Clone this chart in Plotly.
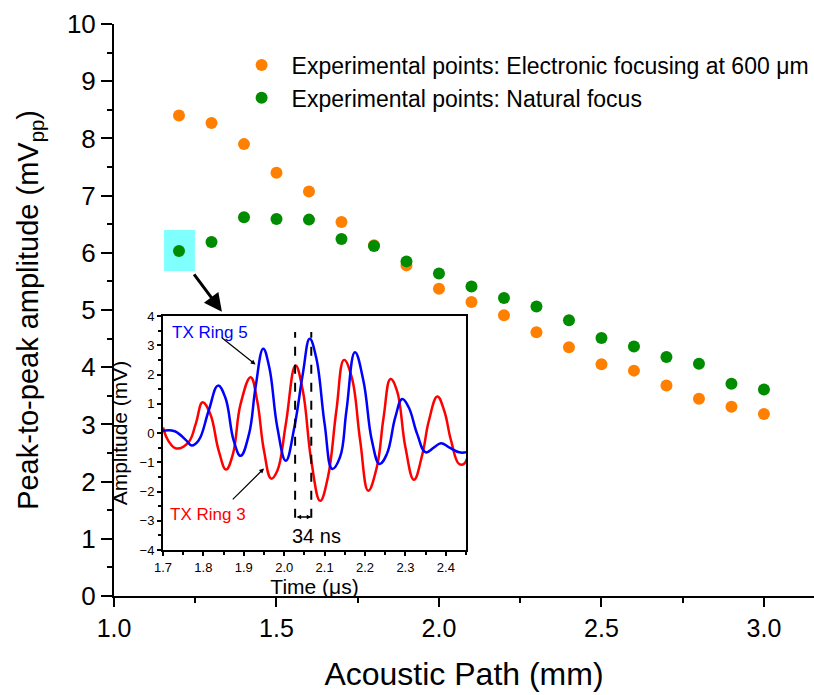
import plotly.graph_objects as go

# ---------------- main data ----------------
path_mm = [1.2, 1.3, 1.4, 1.5, 1.6, 1.7, 1.8, 1.9, 2.0, 2.1, 2.2, 2.3, 2.4, 2.5, 2.6, 2.7, 2.8, 2.9, 3.0]
electronic_focus = [8.40, 8.27, 7.90, 7.40, 7.07, 6.54, 6.13, 5.78, 5.37, 5.14, 4.91, 4.61, 4.35, 4.05, 3.94, 3.68, 3.45, 3.31, 3.18]
natural_focus = [6.03, 6.19, 6.62, 6.59, 6.58, 6.24, 6.12, 5.85, 5.64, 5.41, 5.21, 5.06, 4.82, 4.51, 4.36, 4.18, 4.06, 3.71, 3.61]

# ---------------- inset waveforms ----------------
ring5_t = [1.700, 1.729, 1.758, 1.771, 1.788, 1.813, 1.836, 1.854, 1.875, 1.892, 1.913, 1.929, 1.948, 1.963,
           1.983, 2.004, 2.025, 2.046, 2.063, 2.079, 2.100, 2.119, 2.138, 2.154, 2.175, 2.196, 2.217, 2.236,
           2.254, 2.275, 2.292, 2.308, 2.329, 2.350, 2.371, 2.388, 2.408, 2.433, 2.450]
ring5_a = [0.08, 0.06, -0.26, -0.43, -0.26, 0.76, 1.62, 1.22, -0.26, -0.78, -0.03, 1.56, 2.88, 2.25,
           0.19, -0.95, 0.19, 2.02, 3.22, 2.59, 0.31, -1.23, -0.83, 0.76, 2.76, 1.79, -0.26, -1.06,
           -0.72, 0.54, 1.16, 0.88, -0.03, -0.66, -0.49, -0.35, -0.49, -0.66, -0.66]
ring3_t = [1.700, 1.713, 1.733, 1.763, 1.781, 1.798, 1.817, 1.838, 1.856, 1.873, 1.892, 1.917, 1.933, 1.950,
           1.968, 1.983, 2.004, 2.028, 2.046, 2.067, 2.089, 2.108, 2.129, 2.148, 2.167, 2.188, 2.208, 2.229,
           2.246, 2.263, 2.279, 2.300, 2.321, 2.342, 2.358, 2.379, 2.396, 2.413, 2.433, 2.446, 2.458]
ring3_a = [0.19, -0.26, -0.53, -0.32, 0.31, 1.05, 0.65, -0.61, -1.25, -0.72, 0.99, 1.91, 1.11, -0.61,
           -1.56, -1.29, 0.31, 2.31, 1.45, -0.95, -2.32, -1.52, 0.76, 2.50, 1.91, -0.26, -1.97, -1.18,
           0.54, 1.85, 1.45, -0.49, -1.60, -0.72, 0.42, 1.25, 0.76, -0.26, -1.06, -1.04, -0.49]

main_xticks = [1.0, 1.5, 2.0, 2.5, 3.0]
main_yticks = [0, 1, 2, 3, 4, 5, 6, 7, 8, 9, 10]
inset_xticks = [1.7, 1.8, 1.9, 2.0, 2.1, 2.2, 2.3, 2.4]
inset_yticks = [-4, -3, -2, -1, 0, 1, 2, 3, 4]

FONT = "Liberation Sans, Arial, sans-serif"
ORANGE = "#FF8000"
GREEN = "#008C00"

fig = go.Figure()

fig.add_trace(go.Scatter(x=path_mm, y=electronic_focus, mode="markers",
                         marker=dict(color=ORANGE, size=12),
                         name="Experimental points: Electronic focusing at 600 \u03bcm"))
fig.add_trace(go.Scatter(x=path_mm, y=natural_focus, mode="markers",
                         marker=dict(color=GREEN, size=12),
                         name="Experimental points: Natural focus"))

fig.add_trace(go.Scatter(x=ring3_t, y=ring3_a, mode="lines", xaxis="x2", yaxis="y2",
                         line=dict(color="#FF0000", width=2.5, shape="spline", smoothing=1.2),
                         showlegend=False, name="TX Ring 3"))
fig.add_trace(go.Scatter(x=ring5_t, y=ring5_a, mode="lines", xaxis="x2", yaxis="y2",
                         line=dict(color="#0000FF", width=2.5, shape="spline", smoothing=1.2),
                         showlegend=False, name="TX Ring 5"))

shapes = [
    # cyan highlight box around first natural-focus point
    dict(type="rect", xref="x", yref="y", x0=1.154, x1=1.249, y0=5.68, y1=6.40,
         fillcolor="#80FFFF", line=dict(width=0), layer="below"),
    # dashed delay markers in inset
    dict(type="line", xref="x2", yref="y2", x0=2.027, x1=2.027, y0=-2.9, y1=3.45,
         line=dict(color="black", width=2, dash="dash")),
    dict(type="line", xref="x2", yref="y2", x0=2.067, x1=2.067, y0=-2.9, y1=3.45,
         line=dict(color="black", width=2, dash="dash")),
]

annotations = [
    # main arrow pointing to inset
    dict(x=1.332, y=4.97, ax=1.243, ay=5.65, xref="x", yref="y", axref="x", ayref="y",
         showarrow=True, arrowhead=2, arrowsize=1.2, arrowwidth=3, arrowcolor="black", text=""),
    dict(x=1.717, y=3.45, xref="x2", yref="y2", text="TX Ring 5", showarrow=False,
         xanchor="left", yanchor="middle", font=dict(family=FONT, size=17, color="#0000FF")),
    dict(x=1.713, y=-2.77, xref="x2", yref="y2", text="TX Ring 3", showarrow=False,
         xanchor="left", yanchor="middle", font=dict(family=FONT, size=17, color="#FF0000")),
    dict(x=1.929, y=2.34, ax=1.842, ay=3.30, xref="x2", yref="y2", axref="x2", ayref="y2",
         showarrow=True, arrowhead=2, arrowsize=0.8, arrowwidth=1.2, arrowcolor="black", text=""),
    dict(x=1.950, y=-1.21, ax=1.869, ay=-2.32, xref="x2", yref="y2", axref="x2", ayref="y2",
         showarrow=True, arrowhead=2, arrowsize=0.8, arrowwidth=1.2, arrowcolor="black", text=""),
    dict(x=2.067, y=-2.87, ax=2.027, ay=-2.87, xref="x2", yref="y2", axref="x2", ayref="y2",
         showarrow=True, arrowhead=2, startarrowhead=2, arrowside="end+start",
         arrowsize=0.6, startarrowsize=0.6, arrowwidth=1.5, arrowcolor="black", text=""),
    dict(x=2.079, y=-3.52, xref="x2", yref="y2", text="34 ns", showarrow=False,
         xanchor="center", yanchor="middle", font=dict(family=FONT, size=20, color="black")),
]

fig.update_layout(
    width=814, height=695,
    margin=dict(l=114, r=0, t=24, b=99, autoexpand=False),
    paper_bgcolor="white", plot_bgcolor="white",
    font=dict(family=FONT, color="black"),
    shapes=shapes, annotations=annotations,
    showlegend=True,
    legend=dict(x=0.168, y=0.966, xanchor="left", yanchor="top", itemwidth=50,
                bgcolor="rgba(0,0,0,0)", font=dict(family=FONT, size=23, color="black"),
                itemsizing="trace", tracegroupgap=0),
    xaxis=dict(range=[1.0, 3.154], tickvals=main_xticks, ticktext=[f"{v:.1f}" for v in main_xticks],
               ticks="outside", ticklen=9, tickwidth=2, tickcolor="black",
               showline=True, linewidth=2, linecolor="black", showgrid=False, zeroline=False,
               tickfont=dict(size=25, family=FONT),
               minor=dict(tickvals=[1.25, 1.75, 2.25, 2.75], ticks="outside", ticklen=5,
                          tickwidth=2, tickcolor="black"),
               title=dict(text="Acoustic Path (mm)", font=dict(size=32, family=FONT), standoff=22)),
    yaxis=dict(range=[0, 10], tickvals=main_yticks,
               ticks="outside", ticklen=11, tickwidth=2, tickcolor="black",
               showline=True, linewidth=2, linecolor="black", showgrid=False, zeroline=False,
               tickfont=dict(size=26, family=FONT),
               minor=dict(dtick=0.5, ticks="outside", ticklen=5, tickwidth=2, tickcolor="black"),
               title=dict(text="Peak-to-peak amplitude (mV<sub>pp</sub>)", font=dict(size=29, family=FONT),
                          standoff=20)),
    xaxis2=dict(domain=[0.0700, 0.5029], anchor="y2", range=[1.7, 2.45], tickvals=inset_xticks,
                ticktext=[f"{v:.1f}" for v in inset_xticks],
                ticks="outside", ticklen=4, tickwidth=1.5, tickcolor="black",
                showline=True, linewidth=2, linecolor="black", mirror=True,
                showgrid=False, zeroline=False, tickfont=dict(size=13, family=FONT),
                minor=dict(dtick=0.05, ticks="outside", ticklen=3, tickwidth=1.5, tickcolor="black"),
                title=dict(text="Time (\u03bcs)", font=dict(size=21, family=FONT), standoff=0)),
    yaxis2=dict(domain=[0.0804, 0.4895], anchor="x2", range=[-4, 4], tickvals=inset_yticks,
                ticks="outside", ticklen=4, tickwidth=1.5, tickcolor="black",
                showline=True, linewidth=2, linecolor="black", mirror=True,
                showgrid=False, zeroline=False, tickfont=dict(size=13, family=FONT),
                minor=dict(dtick=0.5, ticks="outside", ticklen=3, tickwidth=1.5, tickcolor="black"),
                title=dict(text="Amplitude (mV)", font=dict(size=21, family=FONT), standoff=6)),
)

fig.write_html("out.html")
